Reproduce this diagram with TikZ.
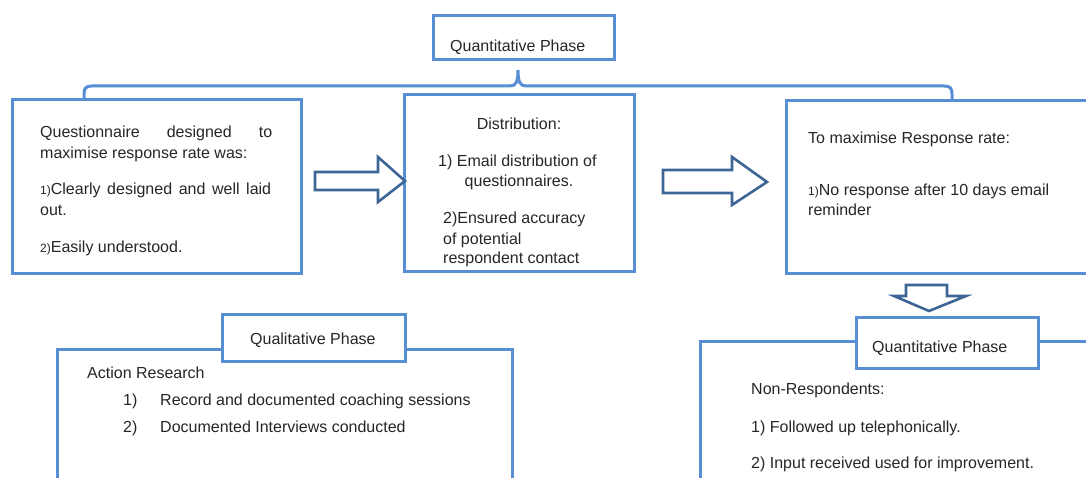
\documentclass[tikz,border=0pt]{standalone}
\usepackage{fontspec}
\setmainfont{Liberation Sans}
\usetikzlibrary{positioning}
\definecolor{boxblue}{RGB}{88,142,212}
\definecolor{arrowblue}{RGB}{61,101,150}
\tikzset{
  phase box/.style={draw=boxblue, line width=3pt, fill=white, inner sep=0pt},
  block arrow/.style={draw=arrowblue, line width=2.6pt, fill=white, line join=miter},
  brace line/.style={draw=boxblue, line width=3pt},
  txt/.style={anchor=base west, inner sep=0pt, text=black!85, font=\fontsize{16}{21}\selectfont},
  ctxt/.style={txt, anchor=base},
}
\newcommand{\smallnum}[1]{{\fontsize{12}{13}\selectfont #1}}

\begin{document}
\begin{tikzpicture}[x=1pt, y=-1pt]
	\useasboundingbox (0,0) rectangle (1086,478);
	\clip (0,0) rectangle (1086,478);

	% top of the quantitative strand
	\node[phase box, minimum width=181pt, minimum height=44pt] (qtop) at (523.5,38) {};
	\node[txt] (qtopT) at (450,52) {Quantitative Phase};

	\draw[brace line] (84,100) -- (84,94) .. controls (84,88) and (86,86) .. (92,86)
		-- (510,86) .. controls (516,86) and (518,82) .. (518,70)
		.. controls (518,82) and (520,86) .. (526,86)
		-- (944,86) .. controls (950,86) and (952,88) .. (952,94) -- (952,100);

	% three steps
	\node[phase box, minimum width=289pt, minimum height=173pt] (design) at (156.5,186.5) {};
	\node[phase box, minimum width=230pt, minimum height=176pt] (distrib) at (519,183) {};
	\node[phase box, minimum width=314pt, minimum height=172pt] (response) at (943,187) {};

	\node[txt] (designA) at (40,138) {\makebox[232pt][s]{Questionnaire designed to}};
	\node[txt] (designB) at (40,159) {maximise response rate was:};
	\node[txt] (designC) at (40,195) {\makebox[231pt][s]{\smallnum{1)}Clearly designed and well laid}};
	\node[txt] (designD) at (40,216) {out.};
	\node[txt] (designE) at (40,252) {\smallnum{2)}Easily understood.};

	\node[ctxt] (distribA) at (519,130) {Distribution:};
	\node[txt] (distribB) at (438,167) {1) Email distribution of};
	\node[ctxt] (distribC) at (519,187) {questionnaires.};
	\node[txt] (distribD) at (443,224) {2)Ensured accuracy};
	\node[txt] (distribE) at (443,244) {of potential};
	\node[txt] (distribF) at (443,263) {respondent contact};

	\node[txt] (responseA) at (808,144) {To maximise Response rate:};
	\node[txt] (responseB) at (808,196) {\smallnum{1)}No response after 10 days email};
	\node[txt] (responseC) at (808,216) {reminder};

	% block arrows
	\draw[block arrow] (315,172) -- (378,172) -- (378,157) -- (405,181)
		-- (378,202) -- (378,190) -- (315,190) -- cycle;
	\draw[block arrow] (663,170) -- (732,170) -- (732,157) -- (767,182)
		-- (732,205) -- (732,193) -- (663,193) -- cycle;
	\draw[block arrow] (906,285) -- (947,285) -- (947,296) -- (966,296)
		-- (929,311) -- (894,296) -- (906,296) -- cycle;

	% qualitative phase
	\node[phase box, minimum width=455pt, minimum height=151pt] (qual) at (284.5,424.5) {};
	\node[phase box, minimum width=183pt, minimum height=47pt] (qualtab) at (313.5,337.5) {};
	\node[txt] (qualtabT) at (250,344) {Qualitative Phase};
	\node[txt] (qualA) at (87,378) {Action Research};
	\node[txt] (qualB) at (123,405) {1)};
	\node[txt] (qualC) at (160,405) {Record and documented coaching sessions};
	\node[txt] (qualD) at (123,432) {2)};
	\node[txt] (qualE) at (160,432) {Documented Interviews conducted};

	% follow up of non-respondents
	\node[phase box, minimum width=410pt, minimum height=159pt] (follow) at (905,420.5) {};
	\node[phase box, minimum width=182pt, minimum height=51pt] (followtab) at (947,342.5) {};
	\node[txt] (followtabT) at (872,352) {Quantitative Phase};
	\node[txt] (followA) at (751,394) {Non-Respondents:};
	\node[txt] (followB) at (751,432) {1) Followed up telephonically.};
	\node[txt] (followC) at (751,468) {2) Input received used for improvement.};
\end{tikzpicture}
\end{document}
